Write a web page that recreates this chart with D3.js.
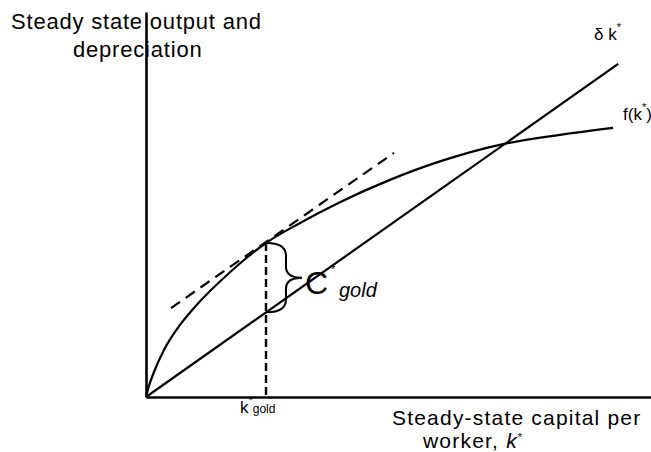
<!DOCTYPE html>
<html>
<head>
<meta charset="utf-8">
<script src="https://cdn.jsdelivr.net/npm/d3@7"></script>
<style>
  html, body { margin: 0; padding: 0; background: #fff; }
  svg { display: block; }
  text { font-family: "Liberation Sans", Arial, Helvetica, sans-serif; fill: #000; }
</style>
</head>
<body>
<svg id="chart" width="651" height="452"></svg>
<script>
// ---- data ----
const fK      = [0, 0.40, 1.58, 3.56, 6.14, 9.50, 12.87, 16.04, 19.41, 23.76, 30.5, 38.4, 48.3, 58.2, 70.7, 82.0, 92.5];
const fValues = [0, 2.08, 6.49, 12.21, 17.66, 23.12, 27.79, 31.69, 35.58, 40.0, 45.2, 50.6, 56.4, 61.2, 65.7, 68.1, 69.9];
const deltaK      = [0, 93.5];
const deltaValues = [0, 86.5];
const tangentK      = [4.95, 49.1];
const tangentValues = [23.1, 63.4];
const kGold = 23.76;
const fGold = 40.0;
const deltaGold = 22.0;
const yTitle = ["Steady state output and", "depreciation"];
const xTitle = ["Steady-state capital per", "worker, "];

// ---- scales ----
const svg = d3.select("#chart");
const x = d3.scaleLinear().domain([0, 100]).range([146, 651]);
const y = d3.scaleLinear().domain([0, 100]).range([397, 12]);

// axes (no ticks)
const gx = svg.append("g").attr("transform", `translate(0,${y(0)})`)
  .call(d3.axisBottom(x).tickValues([]).tickSizeOuter(0));
const gy = svg.append("g").attr("transform", `translate(${x(0)},0)`)
  .call(d3.axisLeft(y).tickValues([]).tickSizeOuter(0));
[gx, gy].forEach(g => g.select(".domain").attr("stroke", "#000").attr("stroke-width", 2.6));

const straight = d3.line().x(d => x(d[0])).y(d => y(d[1]));

// f(k) curve
svg.append("path")
  .datum(fK.map((k, i) => [k, fValues[i]]))
  .attr("d", d3.line().x(d => x(d[0])).y(d => y(d[1])).curve(d3.curveMonotoneX))
  .attr("fill", "none").attr("stroke", "#000").attr("stroke-width", 2.2);

// delta k line
svg.append("path")
  .datum(deltaK.map((k, i) => [k, deltaValues[i]]))
  .attr("d", straight)
  .attr("fill", "none").attr("stroke", "#000").attr("stroke-width", 2.2);

// tangent dashed line
svg.append("path")
  .datum(tangentK.map((k, i) => [k, tangentValues[i]]))
  .attr("d", straight)
  .attr("fill", "none").attr("stroke", "#000").attr("stroke-width", 2.2)
  .attr("stroke-dasharray", "11,7");

// vertical dashed line at k gold
svg.append("line")
  .attr("x1", x(kGold)).attr("x2", x(kGold))
  .attr("y1", y(fGold)).attr("y2", y(0))
  .attr("stroke", "#000").attr("stroke-width", 2.4)
  .attr("stroke-dasharray", "8,4");

// curly brace
{
  const x0 = x(kGold) + 1, yt = y(fGold), yb = y(deltaGold), ym = (yt + yb) / 2, w = 35, v = 19;
  const p = d3.path();
  p.moveTo(x0, yt);
  p.bezierCurveTo(x0 + 14, yt, x0 + v, yt + 5, x0 + v, yt + 13);
  p.lineTo(x0 + v, ym - 11);
  p.bezierCurveTo(x0 + v, ym - 3, x0 + 25, ym, x0 + w, ym);
  p.bezierCurveTo(x0 + 25, ym, x0 + v, ym + 3, x0 + v, ym + 11);
  p.lineTo(x0 + v, yb - 13);
  p.bezierCurveTo(x0 + v, yb - 5, x0 + 14, yb, x0, yb);
  svg.append("path").attr("d", p.toString())
    .attr("fill", "none").attr("stroke", "#000").attr("stroke-width", 2);
}

// ---- text ----
const big = { "font-size": "22px", "letter-spacing": "0.8px" };
const bigX = { "font-size": "21px", "letter-spacing": "1.2px" };
function applyAttrs(sel, o) { for (const k in o) sel.style(k, o[k]); return sel; }

applyAttrs(svg.append("text").attr("x", 11).attr("y", 29).text(yTitle[0]), big);
applyAttrs(svg.append("text").attr("x", 73).attr("y", 57).text(yTitle[1]), big);

applyAttrs(svg.append("text").attr("x", 392).attr("y", 425).text(xTitle[0]), bigX);
{
  const t = applyAttrs(svg.append("text").attr("x", 423).attr("y", 448), bigX);
  t.append("tspan").text(xTitle[1]);
  t.append("tspan").style("font-style", "italic").text("k");
  t.append("tspan").attr("dy", -7).style("font-size", "11px").text("*");
}

// delta k label
{
  const t = svg.append("text").attr("x", 594).attr("y", 40).style("font-size", "17px");
  t.append("tspan").text("\u03B4 k");
  t.append("tspan").attr("dy", -9).style("font-size", "11px").text("*");
}
// f(k*) label
{
  const t = svg.append("text").attr("x", 623).attr("y", 120).style("font-size", "17px");
  t.append("tspan").text("f(k");
  t.append("tspan").attr("dy", -9).style("font-size", "11px").text("*");
  t.append("tspan").attr("dy", 9).text(")");
}
// k*gold label
{
  const t = svg.append("text").attr("x", x(kGold) - 26).attr("y", 413).style("font-size", "17px");
  t.append("tspan").text("k");
  t.append("tspan").attr("dy", -9).style("font-size", "11px").text("*");
  t.append("tspan").attr("dy", 9).style("font-size", "12px").text("gold");
}
// C*gold label
{
  svg.append("text").attr("x", 305).attr("y", 294).style("font-size", "32px").text("C");
  svg.append("text").attr("x", 331).attr("y", 273).style("font-size", "11px").text("*");
  svg.append("text").attr("x", 339).attr("y", 297).style("font-size", "20px").style("font-style", "italic").text("gold");
}
</script>
</body>
</html>
